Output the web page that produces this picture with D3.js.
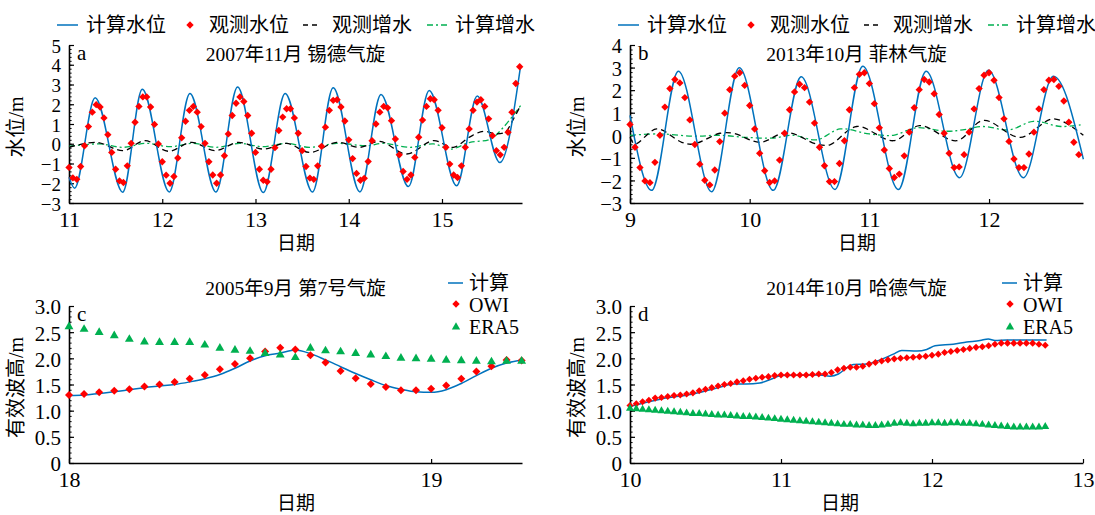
<!DOCTYPE html>
<html>
<head>
<meta charset="utf-8">
<script src="https://cdn.jsdelivr.net/npm/d3@7"></script>
<style>
  html, body { margin: 0; padding: 0; background: #fff; }
  svg { display: block; }
</style>
</head>
<body>
<script>
// ================= data =================
// (a) 2007-11 Xaver: computed water level turning points (day, m)
const tideA_calcDays = [11.0, 11.06, 11.28, 11.576, 11.786, 12.075, 12.297, 12.576, 12.808, 13.084, 13.318, 13.612, 13.833, 14.12, 14.346, 14.64, 14.863, 15.157, 15.378, 15.62, 15.844];
const tideA_calcVals = [-1.7, -2.25, 2.33, -2.45, 2.76, -2.44, 2.54, -2.44, 2.87, -2.47, 2.54, -2.44, 2.84, -2.44, 2.5, -2.17, 2.7, -2.13, 2.42, -0.95, 3.98];
// (a) observed water level, hourly from day 11.0
const tideA_obsStart = 11;
const tideA_obsVals = [
  -1.20, -1.73, -1.80, -1.15, -0.10, 0.87, 1.60, 1.98, 1.86, 1.31, 0.46, -0.44,
  -1.29, -1.88, -1.96, -1.12, 0.02, 1.09, 1.89, 2.37, 2.37, 1.86, 0.98, -0.01,
  -0.91, -1.59, -2.00, -1.66, -0.72, 0.30, 1.14, 1.69, 1.89, 1.60, 0.87, 0.02,
  -0.91, -1.58, -2.00, -1.58, -0.61, 0.50, 1.43, 2.05, 2.37, 2.14, 1.43, 0.53,
  -0.44, -1.29, -1.85, -1.93, -1.29, -0.20, 0.67, 1.35, 1.77, 1.77, 1.31, 0.53,
  -0.35, -1.15, -1.74, -1.80, -1.12, -0.13, 0.84, 1.69, 2.20, 2.23, 1.86, 1.15,
  0.20, -0.75, -1.50, -1.85, -1.75, -0.90, 0.15, 1.00, 1.60, 1.89, 1.82, 1.17,
  0.24, -0.56, -1.40, -1.80, -1.58, -0.69, 0.33, 1.20, 1.89, 2.28, 2.23, 1.69,
  0.81, -0.18, -1.03, -1.58, -1.71, -1.12, -0.18, 0.75, 1.69, 2.11, 2.23, 1.89,
  1.26, 0.41, -0.35, -0.56, -0.18, 0.58, 1.60, 3.05, 3.90
];
// (a) observed surge
const surgeA_obsDays = [11.0, 11.297, 11.583, 11.815, 12.065, 12.316, 12.566, 12.816, 13.084, 13.334, 13.584, 13.87, 14.12, 14.335, 14.621, 14.907, 15.122, 15.30, 15.444, 15.58, 15.68, 15.76, 15.844];
const surgeA_obsVals = [-0.18, 0.07, -0.35, 0.16, -0.38, 0.07, -0.35, 0.07, -0.27, 0.02, -0.44, 0.07, -0.18, 0.12, -0.52, 0.16, -0.18, 0.35, 0.63, 0.50, 0.60, 1.20, 1.95];
// (a) computed surge
const surgeA_calcDays = [11.0, 11.33, 11.58, 11.83, 12.08, 12.33, 12.58, 12.83, 13.08, 13.33, 13.58, 13.87, 14.19, 14.37, 14.66, 14.91, 15.09, 15.30, 15.52, 15.66, 15.844];
const surgeA_calcVals = [-0.13, -0.01, -0.18, 0.02, -0.15, 0.02, -0.18, 0.02, -0.15, 0.02, -0.18, 0.02, -0.10, 0.02, -0.18, -0.01, -0.27, 0.07, 0.24, 0.84, 1.94];

// (b) 2013-10 Christian
const tideB_calcDays = [9.0, 9.181, 9.404, 9.682, 9.913, 10.197, 10.43, 10.713, 10.945, 11.243, 11.474, 11.753, 11.995, 12.287, 12.538, 12.788];
const tideB_calcVals = [0.88, -2.44, 2.84, -2.5, 2.99, -2.44, 2.59, -2.4, 3.06, -2.4, 2.84, -1.88, 2.88, -1.88, 2.61, -1.06];
const tideB_obsStart = 9;
const tideB_obsVals = [
  0.48, -0.53, -1.43, -2.02, -2.10, -1.20, 0.00, 1.25, 2.07, 2.47, 2.32, 1.67,
  0.68, -0.41, -1.28, -1.99, -2.20, -1.54, -0.28, 0.98, 2.02, 2.62, 2.77, 2.21,
  1.32, 0.28, -0.80, -1.57, -2.09, -2.02, -1.10, 0.09, 1.13, 1.92, 2.26, 2.11,
  1.47, 0.54, -0.53, -1.35, -2.05, -2.05, -1.25, -0.24, 1.13, 2.11, 2.70, 2.77,
  2.29, 1.40, 0.33, -0.65, -1.47, -1.87, -1.72, -0.91, 0.14, 1.22, 2.02, 2.47,
  2.36, 1.84, 0.92, 0.09, -0.80, -1.43, -1.40, -0.86, 0.14, 1.17, 2.07, 2.66,
  2.77, 2.44, 1.67, 0.73, -0.27, -1.05, -1.43, -1.43, -0.83, 0.14, 1.17, 2.02,
  2.44, 2.47, 2.17, 1.52, 0.58, -0.31, -0.86
];
const surgeB_obsDays = [9.0, 9.042, 9.223, 9.432, 9.53, 9.752, 9.864, 10.086, 10.309, 10.56, 10.67, 10.894, 11.2, 11.42, 11.73, 11.953, 12.26, 12.54, 12.788];
const surgeB_obsVals = [-0.09, -0.39, 0.28, -0.31, -0.39, 0.09, 0.09, -0.31, 0.13, -0.39, -0.42, 0.39, -0.24, 0.43, -0.24, 0.66, -0.09, 0.73, 0.0];
const surgeB_calcDays = [9.0, 9.25, 9.53, 9.75, 9.97, 10.2, 10.36, 10.56, 10.755, 11.0, 11.2, 11.39, 11.645, 11.78, 11.95, 12.17, 12.37, 12.6, 12.788];
const surgeB_calcVals = [0.0, 0.06, -0.04, 0.0, -0.09, -0.12, 0.0, -0.2, 0.28, 0.06, 0.0, 0.33, 0.18, 0.24, 0.39, 0.24, 0.62, 0.39, 0.48];

// (c) 2005-09 cyclone No.7, significant wave height, hourly from day 18.0
const waveC_start = 18;
const waveC_calc = [1.29, 1.30, 1.33, 1.36, 1.40, 1.44, 1.47, 1.50, 1.55, 1.61, 1.69, 1.81, 1.95, 2.05, 2.10, 2.16, 2.09, 1.97, 1.84, 1.71, 1.59, 1.48, 1.41, 1.36, 1.35, 1.40, 1.52, 1.67, 1.81, 1.91, 1.97];
const waveC_owi = [1.30, 1.32, 1.35, 1.38, 1.41, 1.46, 1.50, 1.55, 1.61, 1.68, 1.79, 1.89, 2.00, 2.13, 2.20, 2.17, 2.06, 1.92, 1.76, 1.62, 1.51, 1.45, 1.39, 1.39, 1.42, 1.48, 1.61, 1.75, 1.85, 1.97, 1.96];
const waveC_era5 = [2.62, 2.57, 2.51, 2.45, 2.38, 2.33, 2.32, 2.32, 2.32, 2.27, 2.21, 2.17, 2.15, 2.11, 2.08, 2.03, 2.21, 2.16, 2.14, 2.11, 2.08, 2.05, 2.02, 2.01, 2.00, 1.98, 1.97, 1.96, 1.95, 1.96, 1.96];

// (d) 2014-10 Gonzalo
const waveD_calcDays = [10.0, 10.2, 10.42, 10.6, 10.68, 10.77, 10.86, 10.95, 11.0, 11.258, 11.324, 11.38, 11.435, 11.479, 11.567, 11.656, 11.744, 11.8, 11.9, 11.965, 12.02, 12.14, 12.23, 12.318, 12.373, 12.417, 12.494, 12.759];
const waveD_calcVals = [1.08, 1.22, 1.32, 1.45, 1.51, 1.51, 1.53, 1.62, 1.67, 1.68, 1.66, 1.70, 1.82, 1.88, 1.89, 1.97, 2.08, 2.15, 2.14, 2.17, 2.24, 2.27, 2.31, 2.34, 2.37, 2.34, 2.35, 2.35];
const waveD_start = 10;
const waveD_owi = [
  1.10, 1.13, 1.17, 1.20, 1.24, 1.25, 1.27, 1.29, 1.30, 1.32, 1.34, 1.38, 1.41, 1.44, 1.47, 1.50,
  1.52, 1.55, 1.57, 1.60, 1.62, 1.64, 1.65, 1.67, 1.68, 1.68, 1.68, 1.68, 1.68, 1.69, 1.70,
  1.70, 1.73, 1.78, 1.81, 1.83, 1.83, 1.85, 1.89, 1.92, 1.95, 1.97, 1.99, 2.00, 2.01, 2.02, 2.03,
  2.04, 2.06, 2.08, 2.11, 2.13, 2.15, 2.17, 2.19, 2.21, 2.22, 2.24, 2.27, 2.29, 2.29, 2.29, 2.29,
  2.29, 2.29, 2.27, 2.25
];
const waveD_era5 = [
  1.06, 1.05, 1.04, 1.03, 1.02, 1.01, 1.00, 0.99, 0.98, 0.97, 0.96, 0.96, 0.95, 0.94, 0.93, 0.93,
  0.92, 0.91, 0.90, 0.90, 0.89, 0.88, 0.87, 0.86, 0.85, 0.84, 0.83, 0.82, 0.81, 0.80, 0.79, 0.78,
  0.77, 0.76, 0.75, 0.75, 0.74, 0.74, 0.73, 0.73, 0.74, 0.75, 0.77, 0.78, 0.77, 0.76, 0.77, 0.77,
  0.78, 0.78, 0.77, 0.78, 0.78, 0.77, 0.77, 0.76, 0.75, 0.74, 0.73, 0.72, 0.71, 0.70, 0.70, 0.70,
  0.70, 0.70, 0.71
];

// labels and ticks
const titles = ["2007年11月 锡德气旋", "2013年10月 菲林气旋", "2005年9月 第7号气旋", "2014年10月 哈德气旋"];
const panelLetters = ["a", "b", "c", "d"];
const legendTide = ["计算水位", "观测水位", "观测增水", "计算增水"];
const legendWave = ["计算", "OWI", "ERA5"];
const yTitleTide = "水位/m";
const yTitleWave = "有效波高/m";
const xTitle = "日期";
const xTicksA = [11, 12, 13, 14, 15];
const xTicksB = [9, 10, 11, 12];
const xTicksC = [18, 19];
const xTicksD = [10, 11, 12, 13];
const yTicksA = [-3, -2, -1, 0, 1, 2, 3, 4, 5];
const yTicksB = [-3, -2, -1, 0, 1, 2, 3, 4];
const yTicksWave = [0, 0.5, 1.0, 1.5, 2.0, 2.5, 3.0];

// ================= style =================
const FONT = '"Liberation Serif", "Noto Sans CJK SC", serif';
const C_BLUE = "#0072BD", C_RED = "#FF0000", C_GREEN = "#00B050", C_BLACK = "#000";

const svg = d3.select("body").append("svg")
  .attr("width", 1095).attr("height", 515)
  .attr("font-family", FONT);

const hourly = (start, vals) => vals.map((v, i) => [start + i / 24, v]);

function makePanel(cfg) {
  const x = d3.scaleLinear().domain(cfg.xDomain).range([cfg.left, cfg.right]);
  const y = d3.scaleLinear().domain(cfg.yDomain).range([cfg.bottom, cfg.top]);
  const g = svg.append("g");

  // minor y ticks
  const minor = d3.range(cfg.yDomain[0], cfg.yDomain[1] + 1e-9, cfg.minorStep);
  g.append("g").attr("transform", `translate(${cfg.left},0)`)
    .call(d3.axisLeft(y).tickValues(minor).tickSize(-2.6).tickSizeOuter(0).tickFormat(""))
    .call(s => s.select(".domain").remove())
    .selectAll("line").attr("stroke", C_BLACK).attr("stroke-width", 1);

  // major y ticks + labels
  const gy = g.append("g").attr("transform", `translate(${cfg.left},0)`)
    .call(d3.axisLeft(y).tickValues(cfg.yTicks).tickSize(-5).tickSizeOuter(0)
      .tickPadding(8).tickFormat(cfg.yFormat));
  gy.attr("font-family", FONT).attr("font-size", cfg.yFont);
  gy.select(".domain").attr("stroke", C_BLACK).attr("stroke-width", 1.6);
  gy.selectAll(".tick line").attr("stroke", C_BLACK).attr("stroke-width", 1.2);
  gy.selectAll(".tick text").attr("dy", "0.38em").attr("fill", C_BLACK);

  // x axis
  const gx = g.append("g").attr("transform", `translate(0,${cfg.bottom})`)
    .call(d3.axisBottom(x).tickValues(cfg.xTicks).tickSize(-4).tickSizeOuter(0)
      .tickPadding(0).tickFormat(d3.format("d")));
  gx.attr("font-family", FONT).attr("font-size", 22);
  gx.select(".domain").attr("stroke", C_BLACK).attr("stroke-width", 1.6);
  gx.selectAll(".tick line").attr("stroke", C_BLACK).attr("stroke-width", 1.2);
  gx.selectAll(".tick text").attr("y", 24).attr("dy", 0).attr("fill", C_BLACK);

  // titles
  g.append("text").attr("x", (cfg.left + cfg.right) / 2).attr("y", cfg.titleY)
    .attr("text-anchor", "middle").attr("font-size", 19.5).text(cfg.title);
  g.append("text").attr("x", cfg.left + 8).attr("y", cfg.top + 15)
    .attr("font-size", 21).text(cfg.letter);
  g.append("text").attr("x", cfg.xTitleX).attr("y", cfg.bottom + 47)
    .attr("text-anchor", "middle").attr("font-size", 19).text(xTitle);
  g.append("text")
    .attr("transform", `translate(${cfg.left - 46},${(cfg.top + cfg.bottom) / 2 + 3}) rotate(-90)`)
    .attr("text-anchor", "middle").attr("font-size", 20).text(cfg.yTitle);

  return { x, y, g };
}

function drawLine(p, pts, color, width, dash, curve) {
  p.g.append("path").datum(pts)
    .attr("fill", "none").attr("stroke", color).attr("stroke-width", width)
    .attr("stroke-dasharray", dash || null)
    .attr("d", d3.line().x(d => p.x(d[0])).y(d => p.y(d[1])).curve(curve || d3.curveCatmullRom));
}

const diamondPath = size => d3.symbol().type(d3.symbolSquare).size(size)();
const trianglePath = size => d3.symbol().type(d3.symbolTriangle).size(size)();

function drawDiamonds(p, pts, size) {
  p.g.append("g").selectAll("path").data(pts).join("path")
    .attr("d", diamondPath(size)).attr("fill", C_RED)
    .attr("transform", d => `translate(${p.x(d[0])},${p.y(d[1])}) rotate(45)`);
}
function drawTriangles(p, pts, size) {
  p.g.append("g").selectAll("path").data(pts).join("path")
    .attr("d", trianglePath(size)).attr("fill", C_GREEN)
    .attr("transform", d => `translate(${p.x(d[0])},${p.y(d[1]) + 0.8})`);
}

// ================= panels =================
const pA = makePanel({ xDomain: [11, 15.858], yDomain: [-3, 5], left: 69, right: 522, top: 45, bottom: 203,
  xTicks: xTicksA, yTicks: yTicksA, minorStep: 0.2, yFormat: d3.format("d"), yFont: 19, titleY: 61,
  title: titles[0], letter: panelLetters[0], yTitle: yTitleTide, xTitleX: 296 });
const pB = makePanel({ xDomain: [9, 12.785], yDomain: [-3, 4], left: 630, right: 1083, top: 45, bottom: 203,
  xTicks: xTicksB, yTicks: yTicksB, minorStep: 0.2, yFormat: d3.format("d"), yFont: 20.5, titleY: 61,
  title: titles[1], letter: panelLetters[1], yTitle: yTitleTide, xTitleX: 857 });
const waveFmt = d => d === 0 ? "0" : d3.format(".1f")(d);
const pC = makePanel({ xDomain: [18, 19.251], yDomain: [0, 3], left: 69, right: 522, top: 306, bottom: 463,
  xTicks: xTicksC, yTicks: yTicksWave, minorStep: 0.1, yFormat: waveFmt, yFont: 21, titleY: 295,
  title: titles[2], letter: panelLetters[2], yTitle: yTitleWave, xTitleX: 296 });
const pD = makePanel({ xDomain: [10, 13], yDomain: [0, 3], left: 630, right: 1083, top: 306, bottom: 463,
  xTicks: xTicksD, yTicks: yTicksWave, minorStep: 0.1, yFormat: waveFmt, yFont: 21, titleY: 295,
  title: titles[3], letter: panelLetters[3], yTitle: yTitleWave, xTitleX: 840 });

// tide panels
[[pA, tideA_calcDays, tideA_calcVals, tideA_obsStart, tideA_obsVals, surgeA_obsDays, surgeA_obsVals, surgeA_calcDays, surgeA_calcVals],
 [pB, tideB_calcDays, tideB_calcVals, tideB_obsStart, tideB_obsVals, surgeB_obsDays, surgeB_obsVals, surgeB_calcDays, surgeB_calcVals]]
.forEach(([p, cd, cv, os, ov, sod, sov, scd, scv]) => {
  drawLine(p, d3.zip(scd, scv), C_GREEN, 1.3, "6,3,2,3");
  drawLine(p, d3.zip(sod, sov), C_BLACK, 1.3, "6,4");
  drawLine(p, d3.zip(cd, cv), C_BLUE, 1.5, null, d3.curveMonotoneX);
  drawDiamonds(p, hourly(os, ov), 27);
});

// wave panels
drawLine(pC, hourly(waveC_start, waveC_calc), C_BLUE, 1.5, null, d3.curveMonotoneX);
drawDiamonds(pC, hourly(waveC_start, waveC_owi), 32);
drawTriangles(pC, hourly(waveC_start, waveC_era5), 34);

drawLine(pD, d3.zip(waveD_calcDays, waveD_calcVals), C_BLUE, 1.5, null, d3.curveMonotoneX);
drawDiamonds(pD, hourly(waveD_start, waveD_owi), 25);
drawTriangles(pD, hourly(waveD_start, waveD_era5), 28);

// ================= legends =================
function tideLegend(ox) {
  const g = svg.append("g").attr("transform", `translate(${ox},0)`).attr("font-size", 20);
  const ly = 25, ty = 32;
  g.append("line").attr("x1", 57).attr("x2", 78).attr("y1", ly).attr("y2", ly)
    .attr("stroke", C_BLUE).attr("stroke-width", 1.5);
  g.append("text").attr("x", 86).attr("y", ty).text(legendTide[0]);
  g.append("path").attr("d", diamondPath(27)).attr("fill", C_RED)
    .attr("transform", `translate(190,${ly}) rotate(45)`);
  g.append("text").attr("x", 209).attr("y", ty).text(legendTide[1]);
  g.append("line").attr("x1", 303).attr("x2", 318).attr("y1", ly).attr("y2", ly)
    .attr("stroke", C_BLACK).attr("stroke-width", 1.3).attr("stroke-dasharray", "5,4");
  g.append("text").attr("x", 332).attr("y", ty).text(legendTide[2]);
  g.append("line").attr("x1", 427).attr("x2", 447).attr("y1", ly).attr("y2", ly)
    .attr("stroke", C_GREEN).attr("stroke-width", 1.3).attr("stroke-dasharray", "6,3,2,3");
  g.append("text").attr("x", 455).attr("y", ty).text(legendTide[3]);
}
tideLegend(0);
tideLegend(561);

function waveLegend(lx) {
  const g = svg.append("g").attr("font-size", 20);
  g.append("line").attr("x1", lx).attr("x2", lx + 15).attr("y1", 283).attr("y2", 283)
    .attr("stroke", C_BLUE).attr("stroke-width", 1.5);
  g.append("text").attr("x", lx + 21).attr("y", 290).text(legendWave[0]);
  g.append("path").attr("d", diamondPath(27)).attr("fill", C_RED)
    .attr("transform", `translate(${lx + 8},304) rotate(45)`);
  g.append("text").attr("x", lx + 21).attr("y", 312).text(legendWave[1]);
  g.append("path").attr("d", trianglePath(30)).attr("fill", C_GREEN)
    .attr("transform", `translate(${lx + 8},327)`);
  g.append("text").attr("x", lx + 21).attr("y", 334).text(legendWave[2]);
}
waveLegend(448);
waveLegend(1002);
</script>
</body>
</html>
